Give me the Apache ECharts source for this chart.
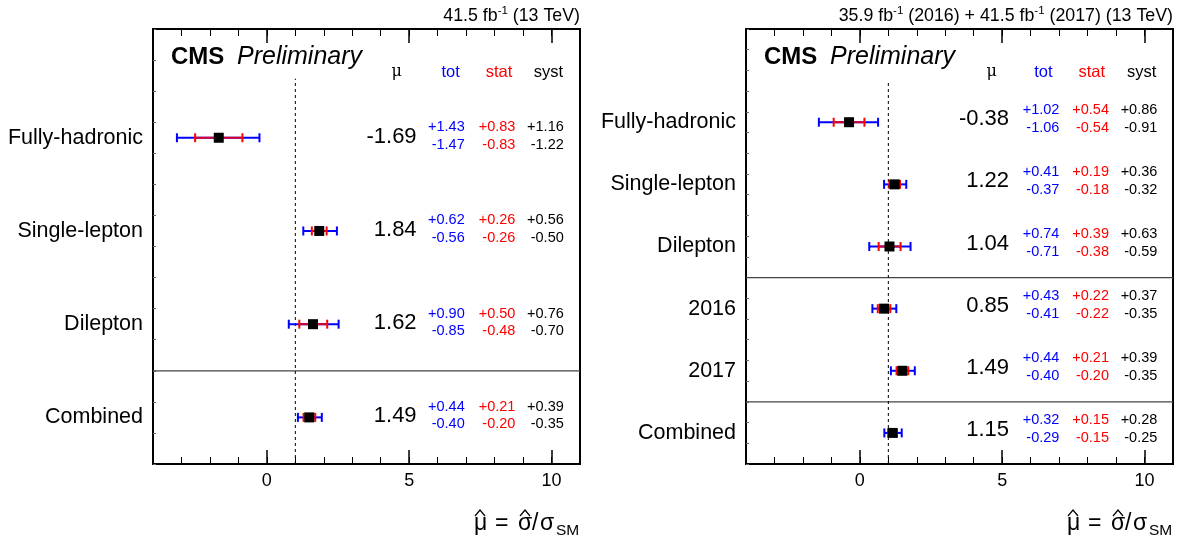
<!DOCTYPE html>
<html><head><meta charset="utf-8">
<script src="https://cdn.jsdelivr.net/npm/echarts@6/dist/echarts.min.js"></script>
<style>html,body{margin:0;padding:0;background:#fff}#c{width:1186px;height:537px}</style>
</head><body><div id="c"></div>
<script>
// ---------- data ----------
const leftCategories = ['Fully-hadronic', 'Single-lepton', 'Dilepton', 'Combined'];
const leftMu      = [-1.69, 1.84, 1.62, 1.49];
const leftTotUp   = [1.43, 0.62, 0.90, 0.44];
const leftTotDn   = [1.47, 0.56, 0.85, 0.40];
const leftStatUp  = [0.83, 0.26, 0.50, 0.21];
const leftStatDn  = [0.83, 0.26, 0.48, 0.20];
const leftSystUp  = [1.16, 0.56, 0.76, 0.39];
const leftSystDn  = [1.22, 0.50, 0.70, 0.35];

const rightCategories = ['Fully-hadronic', 'Single-lepton', 'Dilepton', '2016', '2017', 'Combined'];
const rightMu     = [-0.38, 1.22, 1.04, 0.85, 1.49, 1.15];
const rightTotUp  = [1.02, 0.41, 0.74, 0.43, 0.44, 0.32];
const rightTotDn  = [1.06, 0.37, 0.71, 0.41, 0.40, 0.29];
const rightStatUp = [0.54, 0.19, 0.39, 0.22, 0.21, 0.15];
const rightStatDn = [0.54, 0.18, 0.38, 0.22, 0.20, 0.15];
const rightSystUp = [0.86, 0.36, 0.63, 0.37, 0.39, 0.28];
const rightSystDn = [0.91, 0.32, 0.59, 0.35, 0.35, 0.25];

const xMajorTicks = [0, 5, 10];
const smValue = 1;
const leftSeparatorsAfter = [2];
const rightSeparatorsAfter = [2, 4];

const leftLumi = '{n|41.5 fb}{s|-1}{n| (13 TeV)}';
const rightLumi = '{n|35.9 fb}{s|-1}{n| (2016) + 41.5 fb}{s|-1}{n| (2017) (13 TeV)}';

// ---------- layout ----------
const FONT = '"Liberation Sans", Arial, sans-serif';
const X_MIN = -4, X_MAX = 11;
const panels = [
  { left: 153, top: 29, width: 427, height: 435, yMax: 14, dashTop: 12.4,
    cats: leftCategories, mu: leftMu, totUp: leftTotUp, totDn: leftTotDn,
    statUp: leftStatUp, statDn: leftStatDn, systUp: leftSystUp, systDn: leftSystDn,
    seps: leftSeparatorsAfter, cols: [5.26, 6.95, 8.73, 10.43], dyMu: -1, dyUp: -10.5, dyDn: 7 },
  { left: 746, top: 29, width: 427, height: 435, yMax: 21, dashTop: 18.5,
    cats: rightCategories, mu: rightMu, totUp: rightTotUp, totDn: rightTotDn,
    statUp: rightStatUp, statDn: rightStatDn, systUp: rightSystUp, systDn: rightSystDn,
    seps: rightSeparatorsAfter, cols: [5.24, 7.01, 8.75, 10.45], dyMu: -3, dyUp: -12.5, dyDn: 5.5 }
];

function rowY(n, i) { return 3 * (n - 1 - i) + 1.5; }
function fmtUp(v) { return '+' + v.toFixed(2); }
function fmtDn(v) { return '-' + v.toFixed(2); }

const grid = [], xAxis = [], yAxis = [], series = [];

panels.forEach((p, gi) => {
  grid.push({ left: p.left, top: p.top, width: p.width, height: p.height, show: true,
    borderColor: '#000', borderWidth: 2, backgroundColor: 'transparent' });
  const baseX = { gridIndex: gi, type: 'value', min: X_MIN, max: X_MAX, interval: 1,
    splitLine: { show: false }, axisLine: { show: false, onZero: false } };
  xAxis.push(Object.assign({}, baseX, { position: 'bottom',
    axisTick: { show: true, inside: true, length: 14, customValues: xMajorTicks, lineStyle: { color: '#000', width: 1.5 } },
    axisLabel: { show: true, customValues: xMajorTicks, fontSize: 18, color: '#000', fontFamily: FONT, margin: 8 } }));
  xAxis.push(Object.assign({}, baseX, { position: 'bottom',
    axisTick: { show: true, inside: true, length: 7, lineStyle: { color: '#000', width: 1 } },
    axisLabel: { show: false } }));
  xAxis.push(Object.assign({}, baseX, { position: 'top',
    axisTick: { show: true, inside: true, length: 14, customValues: xMajorTicks, lineStyle: { color: '#000', width: 1.5 } },
    axisLabel: { show: false } }));
  xAxis.push(Object.assign({}, baseX, { position: 'top',
    axisTick: { show: true, inside: true, length: 7, lineStyle: { color: '#000', width: 1 } },
    axisLabel: { show: false } }));
  yAxis.push({ gridIndex: gi, type: 'value', min: 0, max: p.yMax, interval: 1, position: 'left',
    axisLine: { show: false, onZero: false }, splitLine: { show: false },
    axisTick: { show: true, inside: true, length: 3, lineStyle: { color: '#666', width: 1 } },
    axisLabel: { show: false } });

  const xi = gi * 4, yi = gi;
  const n = p.cats.length;

  series.push({ type: 'custom', xAxisIndex: xi, yAxisIndex: yi, silent: true, z: 2,
    data: p.seps.map(i => [rowY(n, i) - 1.5]),
    renderItem: (params, api) => {
      const a = api.coord([X_MIN, api.value(0)]);
      const b = api.coord([X_MAX, api.value(0)]);
      return { type: 'line', shape: { x1: a[0], y1: a[1], x2: b[0], y2: b[1] },
        style: { stroke: '#444', lineWidth: 1.2 } };
    } });

  series.push({ type: 'line', xAxisIndex: xi, yAxisIndex: yi, silent: true, z: 3, symbol: 'none',
    data: [[smValue, 0], [smValue, p.dashTop]],
    lineStyle: { color: '#000', width: 1, type: [3, 3] } });

  series.push({ type: 'custom', xAxisIndex: xi, yAxisIndex: yi, silent: true, z: 5, clip: false,
    data: p.mu.map((m, i) => [m, rowY(n, i), p.totDn[i], p.totUp[i], p.statDn[i], p.statUp[i]]),
    renderItem: (params, api) => {
      const m = api.value(0), y = api.value(1);
      const c = api.coord([m, y]);
      const tl = api.coord([m - api.value(2), y]), tr = api.coord([m + api.value(3), y]);
      const sl = api.coord([m - api.value(4), y]), sr = api.coord([m + api.value(5), y]);
      const h = 4.5;
      const ln = (x1, y1, x2, y2, col, w) => ({ type: 'line', shape: { x1, y1, x2, y2 }, style: { stroke: col, lineWidth: w } });
      const blue = '#0000ff', red = '#ff0000';
      return { type: 'group', children: [
        ln(tl[0], c[1], tr[0], c[1], blue, 2),
        ln(tl[0], c[1] - h, tl[0], c[1] + h, blue, 2),
        ln(tr[0], c[1] - h, tr[0], c[1] + h, blue, 2),
        ln(sl[0], c[1], sr[0], c[1], '#d5002c', 2),
        ln(sl[0], c[1] - h, sl[0], c[1] + h, red, 2),
        ln(sr[0], c[1] - h, sr[0], c[1] + h, red, 2),
        { type: 'rect', shape: { x: c[0] - 5, y: c[1] - 5, width: 10, height: 10 }, style: { fill: '#000' } }
      ] };
    } });

  series.push({ type: 'custom', xAxisIndex: xi, yAxisIndex: yi, silent: true, z: 6, clip: false,
    data: p.mu.map((m, i) => [i]),
    renderItem: (params, api) => {
      const i = api.value(0);
      const y = rowY(n, i);
      const t = (xv, dx, dy, text, size, color, align) => {
        const c = api.coord([xv, y]);
        return { type: 'text', x: c[0] + dx, y: c[1] + dy,
          style: { text, fontSize: size, fill: color, align, verticalAlign: 'middle', fontFamily: FONT } };
      };
      const cl = p.cols;
      return { type: 'group', children: [
        t(X_MIN, -10, 0, p.cats[i], 21.5, '#000', 'right'),
        t(cl[0], 0, p.dyMu, p.mu[i].toFixed(2), 22, '#000', 'right'),
        t(cl[1], 0, p.dyUp, fmtUp(p.totUp[i]), 14.5, '#0000ff', 'right'),
        t(cl[1], 0, p.dyDn, fmtDn(p.totDn[i]), 14.5, '#0000ff', 'right'),
        t(cl[2], 0, p.dyUp, fmtUp(p.statUp[i]), 14.5, '#ff0000', 'right'),
        t(cl[2], 0, p.dyDn, fmtDn(p.statDn[i]), 14.5, '#ff0000', 'right'),
        t(cl[3], 0, p.dyUp, fmtUp(p.systUp[i]), 14.5, '#000', 'right'),
        t(cl[3], 0, p.dyDn, fmtDn(p.systDn[i]), 14.5, '#000', 'right')
      ] };
    } });
});

// ---------- static graphics ----------
const graphic = [];
const headerSets = [
  { mu: 396.7, tot: 450.7, stat: 499, syst: 548.3, cms: 171, prelim: 237, right: 580, lumi: leftLumi },
  { mu: 991.7, tot: 1043.3, stat: 1091.7, syst: 1141.7, cms: 764, prelim: 830, right: 1173, lumi: rightLumi }
];
headerSets.forEach(h => {
  const hy = 72;
  const txt = (x, y, text, size, fill, align, family, extra) => graphic.push({ type: 'text', x, y,
    style: Object.assign({ text, fontSize: size, fill, align, verticalAlign: 'middle', fontFamily: family || FONT }, extra || {}) });
  txt(h.mu, hy, 'μ', 16, '#000', 'center', '"DejaVu Serif", serif');
  txt(h.tot, hy, 'tot', 16.5, '#0000ff', 'center');
  txt(h.stat, hy, 'stat', 16.5, '#ff0000', 'center');
  txt(h.syst, hy, 'syst', 16.5, '#000', 'center');
  txt(h.cms, 57, 'CMS', 24, '#000', 'left', null, { fontWeight: 'bold' });
  txt(h.prelim, 57, 'Preliminary', 25, '#000', 'left', null, { fontStyle: 'italic' });
  graphic.push({ type: 'text', x: h.right, y: 15, style: {
    text: h.lumi, align: 'right', verticalAlign: 'middle',
    rich: { n: { fontSize: 17.8, fontFamily: FONT, fill: '#000', verticalAlign: 'bottom' },
            s: { fontSize: 11.5, fontFamily: FONT, fill: '#000', verticalAlign: 'top', padding: [0, 0, 8, 0] } } } });
  // axis title: mu-hat = sigma-hat / sigma_SM
  const R = h.right, ty = 524;
  txt(R - 106, ty, 'μ', 23, '#000', 'left');
  txt(R - 85, ty, '=', 23, '#000', 'left');
  txt(R - 62, ty, 'σ', 23, '#000', 'left');
  txt(R - 48, ty, '/', 23, '#000', 'left');
  txt(R - 40, ty, 'σ', 23, '#000', 'left');
  txt(R - 24, ty + 7, 'SM', 15.5, '#000', 'left');
  [R - 100, R - 55].forEach(cx => graphic.push({ type: 'polyline',
    shape: { points: [[cx - 5, 516], [cx, 510], [cx + 5, 516]] },
    style: { stroke: '#000', lineWidth: 1.2, fill: null } }));
});

const chart = echarts.init(document.getElementById('c'), null, { renderer: 'canvas' });
chart.setOption({ animation: false, backgroundColor: '#fff', grid, xAxis, yAxis, series, graphic });
</script>
</body></html>
